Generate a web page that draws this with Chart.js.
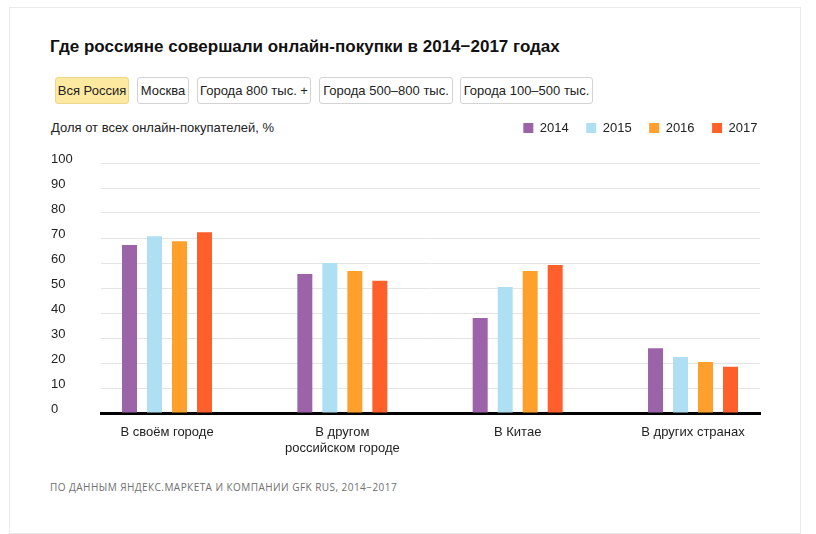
<!DOCTYPE html>
<html lang="ru">
<head>
<meta charset="utf-8">
<title>Где россияне совершали онлайн-покупки</title>
<script src="https://cdn.jsdelivr.net/npm/chart.js@4/dist/chart.umd.min.js"></script>
<style>
      body { margin: 0; background: #fff; font-family: "Liberation Sans", Arial, sans-serif; color: #222; }
      .card { position: absolute; left: 9px; top: 7px; width: 790px; height: 525px; border: 1px solid #ebebeb; }
      h1 { position: absolute; left: 50px; top: 37px; margin: 0; font-size: 17px; font-weight: bold; color: #111; white-space: nowrap; }
      .tabs { position: absolute; left: 55px; top: 77px; }
      .tabs span { position: absolute; top: 0; height: 25px; line-height: 25px; border: 1px solid #d3d3d3; border-radius: 3px;
            font-size: 13px; text-align: center; box-sizing: content-box; white-space: nowrap; color: #222; background: #fff; }
      .tabs span.on { background: #fee9a1; border-color: #ecd68c; }
      .ylabel { position: absolute; left: 51px; top: 120px; font-size: 13px; white-space: nowrap; }
      canvas { position: absolute; left: 0; top: 104px; }
      .source { position: absolute; left: 50px; top: 480px; font-family: "Open Sans", sans-serif; font-size: 10px;
            letter-spacing: 0.45px; color: #6f6f6f; white-space: nowrap; }
</style>
</head>
<body>
<div class="card"></div>
<h1>Где россияне совершали онлайн-покупки в 2014−2017 годах</h1>
<div class="tabs">
      <span class="on" style="left:0;width:72px">Вся Россия</span>
      <span style="left:82px;width:50px">Москва</span>
      <span style="left:142px;width:112px">Города 800 тыс. +</span>
      <span style="left:264px;width:132px">Города 500–800 тыс.</span>
      <span style="left:405px;width:131px">Города 100–500 тыс.</span>
</div>
<div class="ylabel">Доля от всех онлайн-покупателей, %</div>
<canvas id="myChart" width="816" height="359"></canvas>
<div class="source">ПО ДАННЫМ ЯНДЕКС.МАРКЕТА И КОМПАНИИ GFK RUS, 2014−2017</div>

<script>
/* данные */
const categories = ['В своём городе', ['В другом', 'российском городе'], 'В Китае', 'В других странах'];
const years = ['2014', '2015', '2016', '2017'];
const colors = ['#9d63a9', '#aedff3', '#ffa02d', '#ff5f2b'];
const values2014 = [67.2, 55.6, 38.0, 25.9];
const values2015 = [70.7, 60.0, 50.4, 22.4];
const values2016 = [68.7, 56.8, 56.8, 20.4];
const values2017 = [72.3, 52.9, 59.2, 18.5];
const yTicks = { min: 0, max: 100, step: 10 };

const series = [values2014, values2015, values2016, values2017];

/* отступ между легендой и графиком */
const legendGap = {
      id: 'legendGap',
      beforeInit(chart) {
            const fit = chart.legend.fit;
            chart.legend.fit = function () {
                  fit.bind(chart.legend)();
                  this.height += 18.5;
            };
      }
};

function createChart() {
      const canvaNode = document.getElementById('myChart');

      const datasets = years.map((year, i) => ({
            label: year,
            backgroundColor: colors[i],
            borderWidth: 0,
            data: series[i].map((v, j) => ({ x: j, y: v }))
      }));

      chart = new Chart(canvaNode, {
            type: 'bar',
            data: { datasets: datasets },
            plugins: [legendGap],
            options: {
                  responsive: false,
                  animation: false,
                  categoryPercentage: 0.5703,
                  barPercentage: 0.6,
                  layout: { padding: { left: 51, right: 41, top: 0, bottom: 0 } },
                  plugins: {
                        tooltip: { enabled: false },
                        legend: {
                              position: 'top',
                              align: 'end',
                              labels: {
                                    boxWidth: 10,
                                    boxHeight: 10,
                                    padding: 17.5,
                                    color: '#222',
                                    font: { family: '"Liberation Sans", Arial, sans-serif', size: 13 }
                              }
                        }
                  },
                  scales: {
                        x: {
                              type: 'linear',
                              position: 'bottom',
                              offset: false,
                              min: -0.3764,
                              max: 3.382,
                              z: 1,
                              grid: { display: false },
                              border: { display: true, color: '#000', width: 3 },
                              ticks: {
                                    stepSize: 1,
                                    includeBounds: false,
                                    autoSkip: false,
                                    maxRotation: 0,
                                    padding: 4,
                                    color: '#222',
                                    font: { family: '"Liberation Sans", Arial, sans-serif', size: 13 },
                                    callback: (v) => categories[v] !== undefined ? categories[v] : ''
                              },
                              afterFit: (s) => { s.height = 50; }
                        },
                        y: {
                              position: 'left',
                              min: yTicks.min,
                              max: yTicks.max,
                              grid: { color: '#e4e4e4', lineWidth: 1, drawTicks: false },
                              border: { display: false },
                              ticks: {
                                    stepSize: yTicks.step,
                                    crossAlign: 'far',
                                    labelOffset: -4,
                                    color: '#222',
                                    font: { family: '"Liberation Sans", Arial, sans-serif', size: 13 }
                              },
                              afterFit: (s) => { s.width = 50; }
                        },
                        r: { // пустая ось справа, нужна только чтобы легенда кончалась правее графика
                              position: 'right',
                              grid: { display: false },
                              border: { display: false },
                              ticks: { display: false },
                              afterFit: (s) => { s.width = 15; }
                        }
                  }
            }
      });
}

createChart();
</script>
</body>
</html>
